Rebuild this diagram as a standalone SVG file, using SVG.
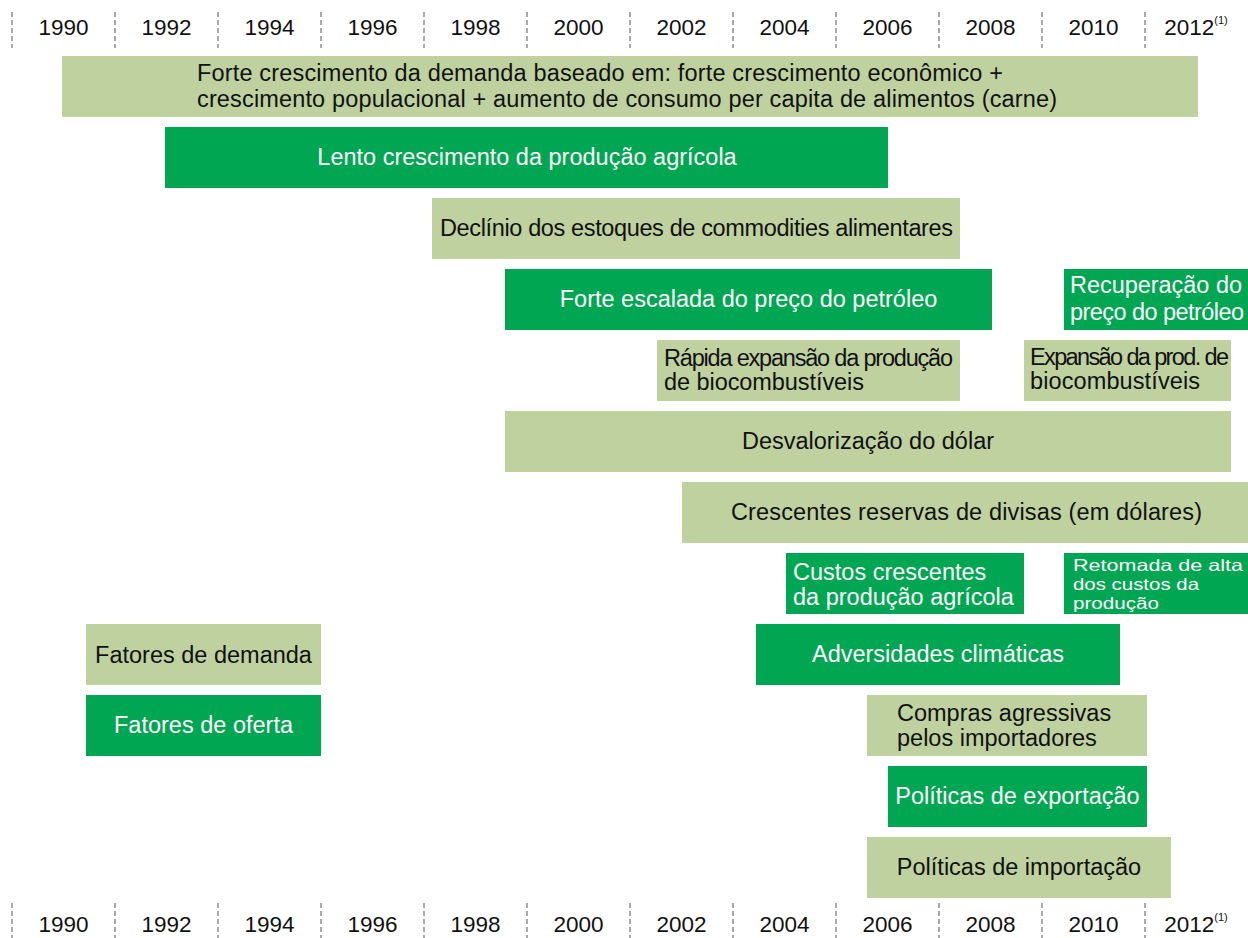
<svg xmlns="http://www.w3.org/2000/svg" width="1248" height="938" viewBox="0 0 1248 938">
<style>
.l{fill:#BFD19F}
.d{fill:#00A651}
text{font-family:"Liberation Sans",Arial,sans-serif;font-size:23.5px}
.tl{fill:#111}
.td{fill:#fff}
.c{text-anchor:middle}
.yr{font-size:22.5px;fill:#111;text-anchor:middle}
.sup{font-size:11px}
.sm{font-size:16.5px}
.tick{stroke:#555;stroke-width:1;stroke-dasharray:5 3}
</style>
<rect width="1248" height="938" fill="#fff"/>
<g id="axis-top">
<path class="tick" d="M12 12V48M115 12V48M218 12V48M321 12V48M424 12V48M527 12V48M630 12V48M733 12V48M836 12V48M939 12V48M1042 12V48M1145 12V48"/>
<text class="yr" x="63.5" y="35">1990</text>
<text class="yr" x="166.5" y="35">1992</text>
<text class="yr" x="269.5" y="35">1994</text>
<text class="yr" x="372.5" y="35">1996</text>
<text class="yr" x="475.5" y="35">1998</text>
<text class="yr" x="578.5" y="35">2000</text>
<text class="yr" x="681.5" y="35">2002</text>
<text class="yr" x="784.5" y="35">2004</text>
<text class="yr" x="887.5" y="35">2006</text>
<text class="yr" x="990.5" y="35">2008</text>
<text class="yr" x="1093.5" y="35">2010</text>
<text class="yr" x="1196" y="35">2012<tspan class="sup" dy="-11">(1)</tspan></text>
</g>
<g id="axis-bottom">
<path class="tick" d="M12 903V938M115 903V938M218 903V938M321 903V938M424 903V938M527 903V938M630 903V938M733 903V938M836 903V938M939 903V938M1042 903V938M1145 903V938"/>
<text class="yr" x="63.5" y="932">1990</text>
<text class="yr" x="166.5" y="932">1992</text>
<text class="yr" x="269.5" y="932">1994</text>
<text class="yr" x="372.5" y="932">1996</text>
<text class="yr" x="475.5" y="932">1998</text>
<text class="yr" x="578.5" y="932">2000</text>
<text class="yr" x="681.5" y="932">2002</text>
<text class="yr" x="784.5" y="932">2004</text>
<text class="yr" x="887.5" y="932">2006</text>
<text class="yr" x="990.5" y="932">2008</text>
<text class="yr" x="1093.5" y="932">2010</text>
<text class="yr" x="1196" y="932">2012<tspan class="sup" dy="-11">(1)</tspan></text>
</g>
<g id="n-demanda-forte">
<rect class="l" x="62" y="56" width="1136" height="61"/>
<text class="tl" x="197" y="81" textLength="806" lengthAdjust="spacing">Forte crescimento da demanda baseado em: forte crescimento econômico +</text>
<text class="tl" x="197" y="107" textLength="860" lengthAdjust="spacing">crescimento populacional + aumento de consumo per capita de alimentos (carne)</text>
</g>
<g id="n-lento">
<rect class="d" x="165" y="127" width="723" height="61"/>
<text class="td c" x="527" y="165">Lento crescimento da produção agrícola</text>
</g>
<g id="n-declinio">
<rect class="l" x="432" y="198" width="528" height="61"/>
<text class="tl" x="440" y="236" textLength="513" lengthAdjust="spacing">Declínio dos estoques de commodities alimentares</text>
</g>
<g id="n-petroleo">
<rect class="d" x="505" y="269" width="487" height="61"/>
<text class="td c" x="748.5" y="307">Forte escalada do preço do petróleo</text>
</g>
<g id="n-recuperacao">
<rect class="d" x="1064" y="269" width="184" height="61"/>
<text class="td" x="1070" y="293" textLength="172" lengthAdjust="spacing">Recuperação do</text>
<text class="td" x="1070" y="320" textLength="174" lengthAdjust="spacing">preço do petróleo</text>
</g>
<g id="n-biocomb">
<rect class="l" x="657" y="340" width="303" height="61"/>
<text class="tl" x="664" y="366" textLength="289" lengthAdjust="spacing">Rápida expansão da produção</text>
<text class="tl" x="664" y="390" textLength="200" lengthAdjust="spacing">de biocombustíveis</text>
</g>
<g id="n-biocomb2">
<rect class="l" x="1024" y="340" width="207" height="61"/>
<text class="tl" x="1030" y="365" textLength="199" lengthAdjust="spacing">Expansão da prod. de</text>
<text class="tl" x="1030" y="389" textLength="170" lengthAdjust="spacing">biocombustíveis</text>
</g>
<g id="n-dolar">
<rect class="l" x="505" y="411" width="726" height="61"/>
<text class="tl c" x="868" y="449">Desvalorização do dólar</text>
</g>
<g id="n-reservas">
<rect class="l" x="682" y="482" width="566" height="61"/>
<text class="tl" x="731" y="520" textLength="471" lengthAdjust="spacing">Crescentes reservas de divisas (em dólares)</text>
</g>
<g id="n-custos">
<rect class="d" x="786" y="553" width="238" height="61"/>
<text class="td" x="793" y="580">Custos crescentes</text>
<text class="td" x="793" y="605">da produção agrícola</text>
</g>
<g id="n-retomada">
<rect class="d" x="1064" y="553" width="184" height="61"/>
<text class="td sm" x="1073" y="571" textLength="170" lengthAdjust="spacingAndGlyphs">Retomada de alta</text>
<text class="td sm" x="1073" y="590" textLength="126" lengthAdjust="spacingAndGlyphs">dos custos da</text>
<text class="td sm" x="1073" y="609" textLength="86" lengthAdjust="spacingAndGlyphs">produção</text>
</g>
<g id="n-fatores-demanda">
<rect class="l" x="86" y="624" width="235" height="61"/>
<text class="tl c" x="203.5" y="663">Fatores de demanda</text>
</g>
<g id="n-climaticas">
<rect class="d" x="756" y="624" width="364" height="61"/>
<text class="td c" x="938" y="662">Adversidades climáticas</text>
</g>
<g id="n-fatores-oferta">
<rect class="d" x="86" y="695" width="235" height="61"/>
<text class="td c" x="203.5" y="733">Fatores de oferta</text>
</g>
<g id="n-compras">
<rect class="l" x="867" y="695" width="280" height="61"/>
<text class="tl" x="897" y="721">Compras agressivas</text>
<text class="tl" x="897" y="746">pelos importadores</text>
</g>
<g id="n-exportacao">
<rect class="d" x="888" y="766" width="259" height="61"/>
<text class="td c" x="1017.5" y="804">Políticas de exportação</text>
</g>
<g id="n-importacao">
<rect class="l" x="867" y="837" width="304" height="61"/>
<text class="tl c" x="1019" y="875">Políticas de importação</text>
</g>
<g id="connectors"/>
</svg>
